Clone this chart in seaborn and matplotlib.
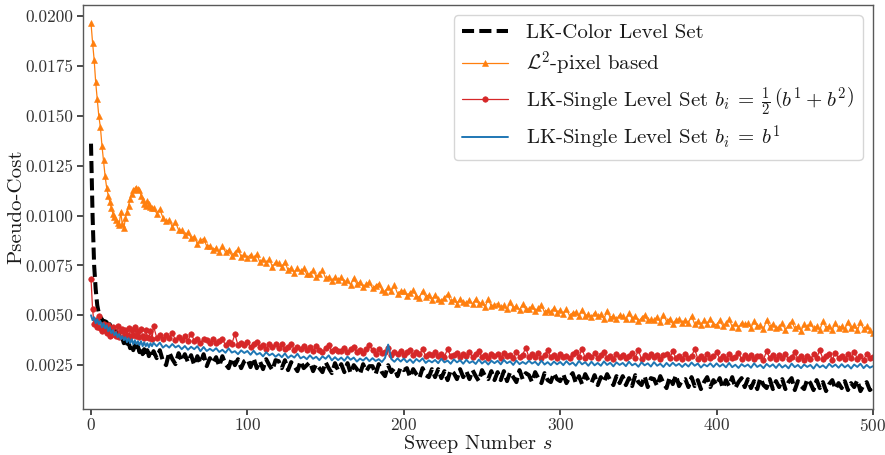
import numpy as np
import pandas as pd
import matplotlib
matplotlib.use("Agg")
import matplotlib.pyplot as plt
import seaborn as sns
from matplotlib.ticker import FormatStrFormatter, MultipleLocator

# ---------------- data ----------------
sweeps = list(range(0, 40)) + list(range(40, 501, 2))

lk_color = [
    0.01360, 0.01000, 0.00750, 0.00630, 0.00550, 0.00510, 0.00490, 0.00480, 0.00465, 0.00470,
    0.00465, 0.00445, 0.00455, 0.00425, 0.00435, 0.00405, 0.00420, 0.00390, 0.00400, 0.00370,
    0.00385, 0.00360, 0.00375, 0.00345, 0.00365, 0.00335, 0.00355, 0.00325, 0.00350, 0.00320,
    0.00345, 0.00315, 0.00335, 0.00305, 0.00330, 0.00300, 0.00325, 0.00295, 0.00320, 0.00300,
    0.00320, 0.00285, 0.00325, 0.00270, 0.00250, 0.00315, 0.00280, 0.00255, 0.00310, 0.00270,
    0.00305, 0.00265, 0.00300, 0.00250, 0.00295, 0.00260, 0.00305, 0.00245, 0.00285, 0.00260,
    0.00290, 0.00245, 0.00295, 0.00255, 0.00235, 0.00285, 0.00250, 0.00280, 0.00235, 0.00270,
    0.00280, 0.00240, 0.00285, 0.00235, 0.00270, 0.00230, 0.00280, 0.00250, 0.00225, 0.00275,
    0.00270, 0.00235, 0.00275, 0.00225, 0.00265, 0.00245, 0.00220, 0.00270, 0.00235, 0.00250,
    0.00265, 0.00220, 0.00255, 0.00235, 0.00215, 0.00265, 0.00235, 0.00210, 0.00260, 0.00225,
    0.00255, 0.00215, 0.00260, 0.00210, 0.00250, 0.00230, 0.00205, 0.00255, 0.00220, 0.00245,
    0.00245, 0.00205, 0.00255, 0.00215, 0.00195, 0.00250, 0.00215, 0.00235, 0.00195, 0.00240,
    0.00225, 0.00235, 0.00190, 0.00230, 0.00205, 0.00185, 0.00235, 0.00200, 0.00190, 0.00230,
    0.00190, 0.00230, 0.00185, 0.00220, 0.00175, 0.00225, 0.00210, 0.00180, 0.00230, 0.00190,
    0.00220, 0.00180, 0.00225, 0.00195, 0.00170, 0.00225, 0.00195, 0.00180, 0.00220, 0.00175,
    0.00215, 0.00175, 0.00220, 0.00170, 0.00215, 0.00190, 0.00165, 0.00225, 0.00180, 0.00210,
    0.00200, 0.00165, 0.00215, 0.00185, 0.00160, 0.00210, 0.00175, 0.00165, 0.00210, 0.00180,
    0.00170, 0.00205, 0.00160, 0.00190, 0.00210, 0.00160, 0.00195, 0.00155, 0.00205, 0.00175,
    0.00160, 0.00200, 0.00150, 0.00190, 0.00165, 0.00205, 0.00175, 0.00150, 0.00195, 0.00160,
    0.00195, 0.00150, 0.00185, 0.00145, 0.00200, 0.00165, 0.00150, 0.00195, 0.00140, 0.00185,
    0.00180, 0.00145, 0.00195, 0.00160, 0.00135, 0.00190, 0.00155, 0.00200, 0.00145, 0.00175,
    0.00180, 0.00140, 0.00190, 0.00145, 0.00175, 0.00130, 0.00165, 0.00190, 0.00140, 0.00175,
    0.00150, 0.00185, 0.00135, 0.00175, 0.00145, 0.00190, 0.00135, 0.00165, 0.00185, 0.00140,
    0.00180, 0.00135, 0.00170, 0.00130, 0.00185, 0.00150, 0.00135, 0.00180, 0.00130, 0.00170,
    0.00140, 0.00180, 0.00130, 0.00165, 0.00185, 0.00125, 0.00170, 0.00145, 0.00130, 0.00180,
    0.00160, 0.00125, 0.00175, 0.00135, 0.00165, 0.00120, 0.00155, 0.00175, 0.00130, 0.00160,
    0.00135, 0.00170, 0.00125, 0.00160, 0.00140, 0.00175, 0.00120, 0.00150, 0.00165, 0.00125,
    0.00140,
]

l2_pixel = [
    0.01965, 0.01866, 0.01781, 0.01667, 0.01582, 0.01497, 0.01443, 0.01350, 0.01276, 0.01198,
    0.01140, 0.01100, 0.01070, 0.01036, 0.01010, 0.00995, 0.00977, 0.00960, 0.00950, 0.01020,
    0.00955, 0.00936, 0.00986, 0.01020, 0.01050, 0.01085, 0.01110, 0.01127, 0.01135, 0.01140,
    0.01132, 0.01127, 0.01100, 0.01077, 0.01060, 0.01050, 0.01075, 0.01060, 0.01045, 0.01036,
    0.01040, 0.01010, 0.01031, 0.00989, 0.00970, 0.00978, 0.00943, 0.00966, 0.00928, 0.00926,
    0.00900, 0.00917, 0.00889, 0.00894, 0.00858, 0.00875, 0.00884, 0.00846, 0.00849, 0.00826,
    0.00838, 0.00816, 0.00845, 0.00817, 0.00827, 0.00799, 0.00814, 0.00832, 0.00794, 0.00805,
    0.00788, 0.00804, 0.00785, 0.00806, 0.00766, 0.00781, 0.00763, 0.00782, 0.00744, 0.00766,
    0.00760, 0.00740, 0.00767, 0.00726, 0.00738, 0.00713, 0.00736, 0.00720, 0.00735, 0.00705,
    0.00707, 0.00726, 0.00693, 0.00707, 0.00726, 0.00685, 0.00694, 0.00672, 0.00692, 0.00676,
    0.00690, 0.00667, 0.00675, 0.00652, 0.00687, 0.00656, 0.00668, 0.00643, 0.00657, 0.00666,
    0.00635, 0.00648, 0.00659, 0.00628, 0.00618, 0.00640, 0.00623, 0.00650, 0.00609, 0.00621,
    0.00623, 0.00598, 0.00614, 0.00625, 0.00598, 0.00589, 0.00622, 0.00593, 0.00602, 0.00575,
    0.00603, 0.00581, 0.00572, 0.00589, 0.00605, 0.00570, 0.00580, 0.00558, 0.00582, 0.00567,
    0.00562, 0.00578, 0.00554, 0.00582, 0.00556, 0.00564, 0.00541, 0.00582, 0.00544, 0.00553,
    0.00558, 0.00539, 0.00549, 0.00530, 0.00565, 0.00537, 0.00548, 0.00527, 0.00554, 0.00530,
    0.00531, 0.00547, 0.00521, 0.00535, 0.00552, 0.00514, 0.00527, 0.00514, 0.00538, 0.00513,
    0.00528, 0.00508, 0.00532, 0.00497, 0.00513, 0.00516, 0.00495, 0.00528, 0.00497, 0.00506,
    0.00490, 0.00513, 0.00494, 0.00504, 0.00481, 0.00523, 0.00488, 0.00498, 0.00481, 0.00502,
    0.00496, 0.00479, 0.00510, 0.00483, 0.00498, 0.00469, 0.00487, 0.00501, 0.00474, 0.00479,
    0.00475, 0.00493, 0.00466, 0.00503, 0.00470, 0.00483, 0.00456, 0.00477, 0.00482, 0.00463,
    0.00478, 0.00463, 0.00496, 0.00456, 0.00471, 0.00450, 0.00475, 0.00456, 0.00481, 0.00457,
    0.00452, 0.00475, 0.00447, 0.00460, 0.00480, 0.00443, 0.00460, 0.00438, 0.00463, 0.00454,
    0.00459, 0.00438, 0.00470, 0.00444, 0.00451, 0.00430, 0.00476, 0.00441, 0.00457, 0.00436,
    0.00441, 0.00459, 0.00428, 0.00450, 0.00470, 0.00435, 0.00447, 0.00423, 0.00454, 0.00440,
    0.00460, 0.00434, 0.00445, 0.00427, 0.00471, 0.00437, 0.00448, 0.00428, 0.00462, 0.00434,
    0.00446, 0.00430, 0.00468, 0.00434, 0.00452, 0.00424, 0.00464, 0.00432, 0.00444, 0.00428,
    0.00410,
]

lk_single_avg = [
    0.00684, 0.00530, 0.00455, 0.00475, 0.00440, 0.00495, 0.00435, 0.00420, 0.00455, 0.00430,
    0.00410, 0.00450, 0.00395, 0.00400, 0.00440, 0.00410, 0.00395, 0.00445, 0.00390, 0.00420,
    0.00430, 0.00395, 0.00425, 0.00400, 0.00435, 0.00390, 0.00425, 0.00400, 0.00440, 0.00395,
    0.00420, 0.00390, 0.00430, 0.00395, 0.00385, 0.00425, 0.00390, 0.00385, 0.00420, 0.00380,
    0.00445, 0.00388, 0.00402, 0.00380, 0.00403, 0.00387, 0.00410, 0.00376, 0.00393, 0.00377,
    0.00395, 0.00372, 0.00408, 0.00373, 0.00381, 0.00362, 0.00383, 0.00375, 0.00360, 0.00380,
    0.00360, 0.00373, 0.00379, 0.00352, 0.00365, 0.00356, 0.00405, 0.00349, 0.00362, 0.00352,
    0.00365, 0.00342, 0.00356, 0.00367, 0.00342, 0.00351, 0.00333, 0.00354, 0.00339, 0.00355,
    0.00336, 0.00355, 0.00330, 0.00343, 0.00358, 0.00326, 0.00343, 0.00332, 0.00345, 0.00326,
    0.00341, 0.00322, 0.00347, 0.00326, 0.00318, 0.00335, 0.00350, 0.00319, 0.00329, 0.00320,
    0.00321, 0.00336, 0.00314, 0.00329, 0.00341, 0.00314, 0.00324, 0.00309, 0.00331, 0.00350,
    0.00325, 0.00308, 0.00331, 0.00311, 0.00318, 0.00335, 0.00302, 0.00318, 0.00305, 0.00322,
    0.00303, 0.00314, 0.00326, 0.00299, 0.00316, 0.00304, 0.00332, 0.00294, 0.00308, 0.00299,
    0.00314, 0.00298, 0.00307, 0.00291, 0.00332, 0.00294, 0.00303, 0.00313, 0.00290, 0.00304,
    0.00296, 0.00314, 0.00292, 0.00306, 0.00322, 0.00290, 0.00302, 0.00286, 0.00306, 0.00296,
    0.00304, 0.00288, 0.00310, 0.00294, 0.00300, 0.00286, 0.00314, 0.00292, 0.00302, 0.00338,
    0.00289, 0.00307, 0.00293, 0.00311, 0.00285, 0.00301, 0.00325, 0.00291, 0.00299, 0.00287,
    0.00308, 0.00290, 0.00298, 0.00284, 0.00304, 0.00314, 0.00292, 0.00331, 0.00286, 0.00300,
    0.00289, 0.00309, 0.00285, 0.00299, 0.00317, 0.00287, 0.00297, 0.00283, 0.00305, 0.00291,
    0.00302, 0.00284, 0.00298, 0.00310, 0.00288, 0.00324, 0.00282, 0.00300, 0.00292, 0.00306,
    0.00289, 0.00303, 0.00281, 0.00299, 0.00307, 0.00285, 0.00319, 0.00287, 0.00295, 0.00283,
    0.00304, 0.00286, 0.00296, 0.00330, 0.00282, 0.00298, 0.00280, 0.00308, 0.00288, 0.00294,
    0.00315, 0.00283, 0.00297, 0.00279, 0.00305, 0.00287, 0.00293, 0.00311, 0.00281, 0.00299,
    0.00284, 0.00302, 0.00280, 0.00294, 0.00298, 0.00278, 0.00320, 0.00286, 0.00300, 0.00282,
    0.00300, 0.00286, 0.00306, 0.00280, 0.00292, 0.00316, 0.00282, 0.00296, 0.00278, 0.00294,
    0.00280, 0.00304, 0.00286, 0.00324, 0.00282, 0.00296, 0.00308, 0.00278, 0.00312, 0.00284,
    0.00298, 0.00280, 0.00304, 0.00286, 0.00318, 0.00282, 0.00294, 0.00278, 0.00306, 0.00284,
    0.00290,
]

lk_single_b1 = [
    0.00500, 0.00475, 0.00490, 0.00460, 0.00480, 0.00455, 0.00470, 0.00440, 0.00460, 0.00435,
    0.00450, 0.00420, 0.00440, 0.00410, 0.00425, 0.00400, 0.00415, 0.00390, 0.00405, 0.00380,
    0.00395, 0.00375, 0.00390, 0.00365, 0.00385, 0.00360, 0.00380, 0.00355, 0.00375, 0.00355,
    0.00370, 0.00350, 0.00370, 0.00345, 0.00365, 0.00345, 0.00360, 0.00340, 0.00360, 0.00345,
    0.00362, 0.00345, 0.00363, 0.00338, 0.00351, 0.00338, 0.00356, 0.00339, 0.00348, 0.00330,
    0.00346, 0.00327, 0.00342, 0.00330, 0.00345, 0.00320, 0.00341, 0.00321, 0.00332, 0.00321,
    0.00335, 0.00316, 0.00327, 0.00312, 0.00334, 0.00313, 0.00320, 0.00305, 0.00324, 0.00311,
    0.00321, 0.00302, 0.00322, 0.00303, 0.00311, 0.00294, 0.00315, 0.00299, 0.00308, 0.00292,
    0.00305, 0.00290, 0.00309, 0.00286, 0.00299, 0.00288, 0.00307, 0.00284, 0.00293, 0.00280,
    0.00299, 0.00282, 0.00292, 0.00275, 0.00294, 0.00282, 0.00299, 0.00274, 0.00290, 0.00275,
    0.00288, 0.00272, 0.00293, 0.00277, 0.00288, 0.00268, 0.00283, 0.00273, 0.00288, 0.00270,
    0.00285, 0.00271, 0.00280, 0.00266, 0.00286, 0.00353, 0.00281, 0.00267, 0.00284, 0.00268,
    0.00283, 0.00265, 0.00279, 0.00261, 0.00281, 0.00268, 0.00284, 0.00261, 0.00274, 0.00264,
    0.00276, 0.00260, 0.00282, 0.00264, 0.00273, 0.00257, 0.00279, 0.00264, 0.00275, 0.00257,
    0.00277, 0.00261, 0.00270, 0.00256, 0.00278, 0.00258, 0.00271, 0.00253, 0.00272, 0.00260,
    0.00272, 0.00254, 0.00276, 0.00260, 0.00269, 0.00251, 0.00273, 0.00255, 0.00266, 0.00256,
    0.00272, 0.00258, 0.00267, 0.00250, 0.00273, 0.00253, 0.00265, 0.00250, 0.00268, 0.00254,
    0.00266, 0.00250, 0.00270, 0.00253, 0.00263, 0.00247, 0.00271, 0.00254, 0.00265, 0.00247,
    0.00267, 0.00249, 0.00261, 0.00247, 0.00269, 0.00251, 0.00262, 0.00244, 0.00264, 0.00251,
    0.00261, 0.00245, 0.00267, 0.00249, 0.00258, 0.00242, 0.00264, 0.00249, 0.00259, 0.00243,
    0.00265, 0.00247, 0.00257, 0.00241, 0.00261, 0.00245, 0.00262, 0.00247, 0.00257, 0.00241,
    0.00257, 0.00243, 0.00263, 0.00247, 0.00258, 0.00238, 0.00254, 0.00244, 0.00259, 0.00241,
    0.00259, 0.00243, 0.00255, 0.00239, 0.00261, 0.00240, 0.00252, 0.00236, 0.00255, 0.00243,
    0.00253, 0.00237, 0.00259, 0.00241, 0.00251, 0.00235, 0.00256, 0.00242, 0.00254, 0.00236,
    0.00256, 0.00238, 0.00250, 0.00234, 0.00258, 0.00240, 0.00251, 0.00235, 0.00253, 0.00241,
    0.00251, 0.00233, 0.00255, 0.00239, 0.00249, 0.00235, 0.00257, 0.00241, 0.00253, 0.00237,
    0.00255, 0.00239, 0.00251, 0.00233, 0.00253, 0.00241, 0.00257, 0.00235, 0.00251, 0.00237,
    0.00245,
]

labels = [
    "LK-Color Level Set",
    r"$\mathcal{L}^2$-pixel based",
    r"LK-Single Level Set $b_i\:=\:\frac{1}{2}\,\left(b^1\:+\:b^2\right)$",
    r"LK-Single Level Set $b_i\:=\:b^1$",
]

# ---------------- style ----------------
sns.set_theme(style="ticks")
plt.rcParams.update({
    "font.family": "serif",
    "font.serif": ["cmr10"],
    "mathtext.fontset": "cm",
    "axes.formatter.use_mathtext": True,
    "axes.unicode_minus": False,
    "axes.edgecolor": "0.35",
    "axes.linewidth": 1.0,
    "xtick.color": "0.2",
    "ytick.color": "0.2",
    "xtick.major.size": 4,
    "ytick.major.size": 4,
    "xtick.major.pad": 1.5,
    "ytick.major.pad": 3,
    "text.color": "0.1",
    "axes.labelcolor": "0.1",
})

df = pd.DataFrame({
    "sweep": sweeps,
    "color": lk_color,
    "l2": l2_pixel,
    "avg": lk_single_avg,
    "b1": lk_single_b1,
})

fig, ax = plt.subplots(figsize=(8.85, 4.55), dpi=100)
fig.subplots_adjust(left=0.094, right=0.9864, top=0.989, bottom=0.101)

sns.lineplot(data=df, x="sweep", y="color", ax=ax, color="black", lw=2.9,
             linestyle=(0, (3.0, 1.3)), label=labels[0], estimator=None, errorbar=None)
sns.lineplot(data=df, x="sweep", y="l2", ax=ax, color="#ff7f0e", lw=0.9,
             marker="^", markersize=4.5, markeredgewidth=0.4, markeredgecolor="#ff7f0e",
             label=labels[1], estimator=None, errorbar=None)
sns.lineplot(data=df, x="sweep", y="avg", ax=ax, color="#d62728", lw=0.9,
             marker="o", markersize=4, markeredgewidth=0.4, markeredgecolor="#d62728",
             label=labels[2], estimator=None, errorbar=None)
sns.lineplot(data=df, x="sweep", y="b1", ax=ax, color="#1f77b4", lw=1.4,
             label=labels[3], estimator=None, errorbar=None)

ax.set_xlim(-5, 500)
ax.set_ylim(0.00030, 0.02055)
ax.xaxis.set_major_locator(MultipleLocator(100))
ax.yaxis.set_major_locator(MultipleLocator(0.0025))
ax.yaxis.set_major_formatter(FormatStrFormatter("%.4f"))
ax.tick_params(axis="both", labelsize=12.5, direction="out")
ax.set_xlabel(r"Sweep Number $s$", fontsize=14.5, labelpad=-0.5)
ax.set_ylabel("Pseudo-Cost", fontsize=15, labelpad=0)

leg = ax.legend(loc="upper right", fontsize=15, handlelength=2.2, handletextpad=0.9,
                labelspacing=0.35, borderaxespad=0.5, frameon=True, fancybox=True,
                framealpha=0.8, edgecolor="0.8")

fig.savefig("out.png", dpi=100)
